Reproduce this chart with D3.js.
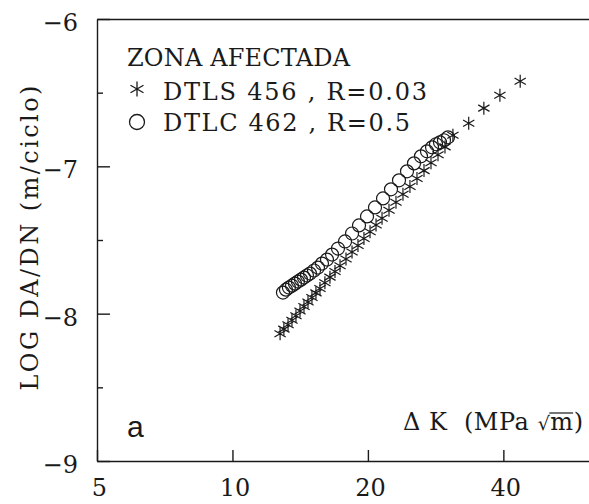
<!DOCTYPE html>
<html>
<head>
<meta charset="utf-8">
<script src="https://cdn.jsdelivr.net/npm/d3@7"></script>
<style>
  body { margin: 0; background: #fff; overflow: hidden; }
  svg { display: block; }
</style>
</head>
<body>
<svg id="chart"></svg>
<script>
const starK = [12.76, 13.01, 13.29, 13.56, 13.84, 14.13, 14.42, 14.72, 15.02, 15.33, 15.65, 16.05, 16.47, 16.90, 17.34, 17.88, 18.44, 19.01, 19.60, 20.22, 20.85, 21.50, 22.28, 23.09, 23.93, 24.80, 25.71, 26.65, 27.62, 28.63, 29.67, 30.9, 33.5, 36.2, 39.3, 43.6];
const starLog = [-8.136, -8.105, -8.075, -8.044, -8.014, -7.982, -7.952, -7.921, -7.890, -7.859, -7.829, -7.790, -7.752, -7.714, -7.675, -7.629, -7.582, -7.537, -7.490, -7.444, -7.398, -7.352, -7.298, -7.244, -7.190, -7.137, -7.083, -7.029, -6.976, -6.922, -6.868, -6.789, -6.707, -6.605, -6.517, -6.422];

const circK = [12.95, 13.15, 13.35, 13.56, 13.77, 13.98, 14.20, 14.42, 14.64, 14.87, 15.18, 15.49, 15.81, 16.22, 16.65, 17.16, 17.79, 18.44, 19.11, 19.91, 20.74, 21.61, 22.51, 23.45, 24.43, 25.32, 26.24, 27.06, 27.77, 28.34, 28.92, 29.52, 30.13];
const circLog = [-7.857, -7.837, -7.823, -7.810, -7.796, -7.782, -7.769, -7.755, -7.741, -7.728, -7.707, -7.687, -7.660, -7.633, -7.599, -7.558, -7.510, -7.456, -7.401, -7.340, -7.279, -7.218, -7.156, -7.095, -7.034, -6.980, -6.932, -6.898, -6.871, -6.850, -6.837, -6.823, -6.803];

const xTicks = [5, 10, 20, 40];
const yTicks = [-6, -7, -8, -9];
const yMinor = [-6.5, -7.5, -8.5];

const legendTitle = "ZONA AFECTADA";
const legendItems = ["DTLS 456 , R=0.03", "DTLC 462 , R=0.5"];

var w = 589;
var h = 504;
let margin = ({ top: 19, right: 0, bottom: 43, left: 97 });

const ink = "#1a1a1a";
const serif = "'DejaVu Serif', serif";

var svg = d3.select("#chart")
    .attr("width", w)
    .attr("height", h)

var xScale = d3.scaleLog()
    .domain([5, 62])
    .range([margin.left, w - margin.right])

var yScale = d3.scaleLinear()
    .domain([-9, -6])
    .range([h - margin.bottom, margin.top])

const starPath = (r) => {
    let p = "";
    [90, 30, 150].forEach(a => {
        let dx = r * Math.cos(a * Math.PI / 180);
        let dy = r * Math.sin(a * Math.PI / 180);
        p += `M${-dx},${-dy}L${dx},${dy}`;
    });
    return p;
}

// axes
let xAxis = g => g
    .attr("transform", `translate(0,${yScale(-9)})`)
    .call(d3.axisBottom(xScale).tickValues(xTicks).tickFormat(d3.format("d")).tickSizeInner(-11).tickSizeOuter(0))
    .call(g => g.selectAll("text").attr("y", 0).attr("dy", 35).attr("dx", 2).style("font-family", serif).style("font-size", "24px").attr("fill", ink))

let yAxis = g => g
    .attr("transform", `translate(${xScale(5)},0)`)
    .call(d3.axisLeft(yScale).tickValues(yTicks).tickFormat(d => "\u2212" + Math.abs(d)).tickSizeInner(-13).tickSizeOuter(0).tickPadding(19))
    .call(g => g.selectAll("text").attr("dy", "11.5").style("font-family", serif).style("font-size", "24px").attr("fill", ink))

let yMinorAxis = g => g
    .attr("transform", `translate(${xScale(5)},0)`)
    .call(d3.axisLeft(yScale).tickValues(yMinor).tickFormat("").tickSizeInner(-6).tickSizeOuter(0))
    .call(g => g.select(".domain").remove())

let topAxis = g => g
    .attr("transform", `translate(0,${yScale(-6)})`)
    .call(d3.axisTop(xScale).tickValues([]).tickSizeOuter(0))

svg.append("g").call(xAxis);
svg.append("g").call(yAxis);
svg.append("g").call(yMinorAxis);
svg.append("g").call(topAxis);

svg.selectAll(".domain, .tick line")
    .attr("stroke", ink)
    .attr("stroke-width", 1.4)

// data
const chart = svg.append("g")

chart.append("g")
    .selectAll("path")
    .data(starK.map((k, i) => [k, starLog[i]]))
    .join("path")
        .attr("transform", d => `translate(${xScale(d[0])},${yScale(d[1])})`)
        .attr("d", starPath(6.5))
        .attr("stroke", ink)
        .attr("stroke-width", 1.2)
        .attr("fill", "none")

chart.append("g")
    .selectAll("circle")
    .data(circK.map((k, i) => [k, circLog[i]]))
    .join("circle")
        .attr("cx", d => xScale(d[0]))
        .attr("cy", d => yScale(d[1]))
        .attr("r", 6.5)
        .attr("stroke", ink)
        .attr("stroke-width", 1.2)
        .attr("fill", "none")

// legend
const legend = svg.append("g")

legend.append("text")
    .attr("x", 127)
    .attr("y", 66)
    .attr("textLength", 223)
    .attr("lengthAdjust", "spacing")
    .style("font-family", serif)
    .style("font-size", "24px")
    .attr("fill", ink)
    .text(legendTitle)

legend.append("path")
    .attr("transform", "translate(137,89)")
    .attr("d", starPath(7.5))
    .attr("stroke", ink)
    .attr("stroke-width", 1.3)

legend.append("circle")
    .attr("cx", 137)
    .attr("cy", 122)
    .attr("r", 7.5)
    .attr("stroke", ink)
    .attr("stroke-width", 1.3)
    .attr("fill", "none")

legend.selectAll("text.item")
    .data(legendItems)
    .join("text")
        .attr("class", "item")
        .attr("x", 163)
        .attr("y", (d, i) => i === 0 ? 100 : 131)
        .attr("textLength", (d, i) => i === 0 ? 264 : 247)
        .attr("lengthAdjust", "spacing")
        .style("font-family", serif)
        .style("font-size", "24px")
        .attr("fill", ink)
        .text(d => d)

// y label
svg.append("text")
    .attr("transform", "translate(38,238) rotate(-90)")
    .attr("text-anchor", "middle")
    .attr("textLength", 305)
    .attr("lengthAdjust", "spacing")
    .style("font-family", serif)
    .style("font-size", "24px")
    .attr("fill", ink)
    .text("LOG DA/DN (m/ciclo)")

// panel letter
svg.append("text")
    .attr("x", 127)
    .attr("y", 437)
    .style("font-family", "'Liberation Sans', Arial, sans-serif")
    .style("font-size", "30px")
    .attr("fill", ink)
    .text("a")

// x label
const xlPre = "\u0394 K  (MPa ";
const xl = svg.append("text")
    .attr("x", 403)
    .attr("y", 430)
    .attr("textLength", 180)
    .attr("lengthAdjust", "spacing")
    .style("white-space", "pre")
    .style("font-family", serif)
    .style("font-size", "24px")
    .attr("fill", ink)

xl.append("tspan").text(xlPre)
xl.append("tspan").text("\u221A").style("font-size", "19px")
xl.append("tspan").text("m")
xl.append("tspan").text(")")

const mBox = xl.node().getExtentOfChar(xlPre.length + 1);
svg.append("line")
    .attr("x1", mBox.x - 1)
    .attr("x2", mBox.x + mBox.width)
    .attr("y1", 413)
    .attr("y2", 413)
    .attr("stroke", ink)
    .attr("stroke-width", 1.2)
</script>
</body>
</html>
